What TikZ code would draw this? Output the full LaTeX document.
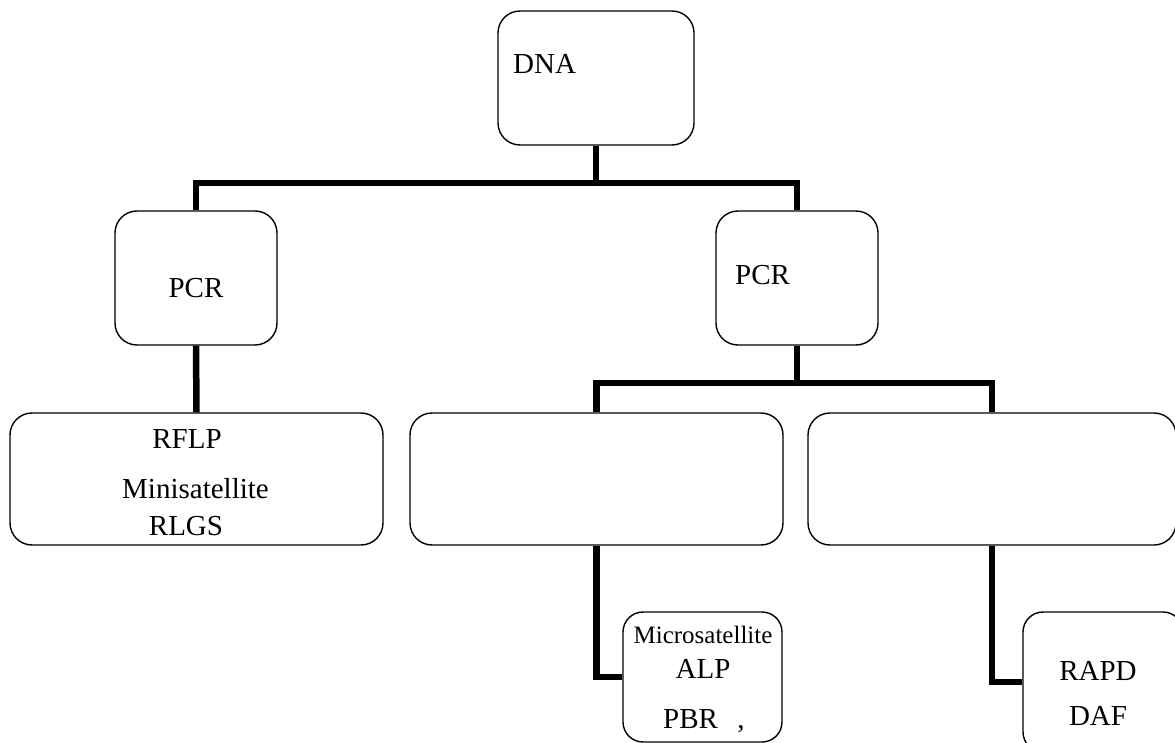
\documentclass[tikz,border=0pt]{standalone}
\usepackage{fontspec}
\setmainfont{Liberation Serif}
\begin{document}
\begin{tikzpicture}[x=1pt,y=-1pt,
  box/.style={draw=black,line width=1.4pt,rounded corners=22pt,inner sep=0pt,fill=white},
  conn/.style={draw=black,line width=6.5pt},
  lbl/.style={inner sep=0pt,font=\fontsize{29}{34}\selectfont},
  slbl/.style={inner sep=0pt,font=\fontsize{25}{30}\selectfont}]
\useasboundingbox (0,0) rectangle (1175,743);
\clip (0,0) rectangle (1175,743);
% boxes
\node[box,minimum width=196pt,minimum height=134pt] (dna) at (596,78) {};
\node[box,minimum width=162pt,minimum height=134pt] (pcrL) at (196,278) {};
\node[box,minimum width=162pt,minimum height=134pt] (pcrR) at (797,278) {};
\node[box,minimum width=373pt,minimum height=132pt] (rflp) at (196.5,479) {};
\node[box,minimum width=373pt,minimum height=132pt] (mid) at (596.5,479) {};
\node[box,minimum width=368pt,minimum height=132pt] (rgt) at (992,479) {};
\node[box,minimum width=159pt,minimum height=130pt,rounded corners=20pt] (micro) at (702.5,677) {};
\node[box,minimum width=160pt,minimum height=140pt,rounded corners=20pt] (rapd) at (1103,682) {};
% connectors
\coordinate (bar1) at (596,183);
\coordinate (bar2) at (797,383);
\draw[conn] (dna.south) -- (bar1) -| (pcrL.north);
\draw[conn] (bar1) -| (pcrR.north);
\draw[conn] (pcrL.south) -- (rflp.north);
\draw[conn] (pcrR.south) -- (bar2) -| (mid.north);
\draw[conn] (bar2) -| (rgt.north);
\draw[conn] (mid.south) |- (micro.west);
\draw[conn] (rgt.south) |- (rapd.west);
% texts
\node[lbl,anchor=base west] (tdna) at (513,74) {DNA};
\node[lbl,anchor=base] (tpcrL) at (196,298) {PCR};
\node[lbl,anchor=base west] (tpcrR) at (735,284) {PCR};
\node[lbl,anchor=base] (trflp) at (187,448) {RFLP};
\node[lbl,anchor=base] (tmini) at (195.5,498) {Minisatellite};
\node[lbl,anchor=base] (trlgs) at (186,535) {RLGS};
\node[slbl,anchor=base] (tmicro) at (703,643) {Microsatellite};
\node[lbl,anchor=base] (talp) at (703,678) {ALP};
\node[lbl,anchor=base west] (tpbr) at (663,728) {PBR};
\node[lbl,anchor=base] (tcomma) at (741,728) {,};
\node[lbl,anchor=base] (trapd) at (1098,680) {RAPD};
\node[lbl,anchor=base] (tdaf) at (1098,725) {DAF};
\end{tikzpicture}
\end{document}
